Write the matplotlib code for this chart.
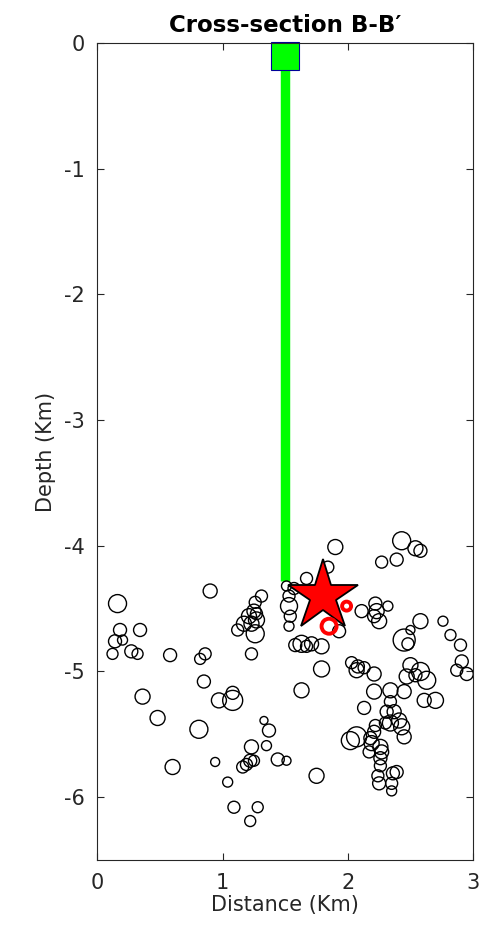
import numpy as np
import matplotlib
matplotlib.use("Agg")
from matplotlib import pyplot as plt

plt.rcParams['axes.unicode_minus'] = False

# event locations along the section: distance (km), depth (km), circle diameter (px)
ev_x = [0.16, 0.90, 0.18, 0.34, 0.14, 0.20, 0.12, 0.27, 0.32, 0.58, 0.86, 0.82,
        0.85, 0.36, 0.97, 1.08, 1.08, 0.48, 0.81, 0.60, 0.94, 1.04, 1.09, 1.22,
        1.28, 1.33, 1.37, 1.23, 1.35, 1.44, 1.51, 1.22, 1.16, 1.19, 1.25, 1.79,
        1.63, 1.75,
        1.31, 1.26, 1.25, 1.27, 1.21, 1.27, 1.17, 1.23, 1.12, 1.26, 1.23,
        1.90, 1.84, 1.67, 1.51, 1.57, 1.53, 1.53, 1.54, 1.53, 1.63, 1.71, 1.67,
        1.58, 1.79, 1.93, 2.03, 2.08,
        2.43, 2.54, 2.58, 2.39, 2.27, 2.11, 2.22, 2.32, 2.23, 2.21, 2.25, 2.58,
        2.50, 2.45, 2.48, 2.76, 2.82, 2.90, 2.91, 2.95, 2.87,
        2.07, 2.13, 2.21, 2.50, 2.58, 2.63, 2.47, 2.54, 2.45, 2.34, 2.21, 2.61,
        2.70, 2.13, 2.34, 2.31, 2.37, 2.41, 2.43, 2.45, 2.34, 2.30, 2.22, 2.07,
        2.02, 2.21, 2.18, 2.19, 2.26, 2.17, 2.27, 2.26, 2.26, 2.24, 2.25, 2.35,
        2.36, 2.39, 2.35]
ev_z = [-4.46, -4.36, -4.67, -4.67, -4.76, -4.75, -4.86, -4.84, -4.86, -4.87, -4.86, -4.90,
        -5.08, -5.20, -5.23, -5.17, -5.23, -5.37, -5.46, -5.76, -5.72, -5.88, -6.08, -6.19,
        -6.08, -5.39, -5.47, -5.60, -5.59, -5.70, -5.71, -5.71, -5.76, -5.74, -5.71, -4.98,
        -5.15, -5.83,
        -4.40, -4.45, -4.52, -4.54, -4.56, -4.59, -4.62, -4.62, -4.67, -4.70, -4.86,
        -4.01, -4.17, -4.26, -4.32, -4.34, -4.40, -4.48, -4.56, -4.64, -4.78, -4.78, -4.80,
        -4.79, -4.80, -4.68, -4.93, -4.96,
        -3.96, -4.02, -4.04, -4.11, -4.13, -4.52, -4.46, -4.48, -4.52, -4.56, -4.60, -4.60,
        -4.67, -4.75, -4.78, -4.60, -4.71, -4.79, -4.92, -5.02, -4.99,
        -4.99, -4.97, -5.02, -4.95, -5.00, -5.07, -5.04, -5.03, -5.16, -5.15, -5.16, -5.23,
        -5.23, -5.29, -5.24, -5.32, -5.32, -5.39, -5.44, -5.52, -5.41, -5.41, -5.43, -5.52,
        -5.55, -5.48, -5.53, -5.57, -5.60, -5.64, -5.64, -5.69, -5.75, -5.83, -5.89, -5.89,
        -5.81, -5.80, -5.95]
ev_d = [18, 14, 13, 13, 13, 10, 11, 13, 11, 13, 12, 11,
        13, 15, 15, 13, 20, 15, 18, 15, 9, 10, 12, 11,
        11, 8, 13, 14, 10, 13, 9, 13, 12, 12, 11, 16,
        15, 15,
        12, 12, 14, 12, 15, 16, 15, 15, 12, 18, 12,
        15, 12, 12, 10, 12, 12, 17, 12, 10, 17, 14, 12,
        13, 15, 13, 12, 13,
        18, 15, 13, 13, 12, 13, 13, 10, 15, 13, 15, 15,
        9, 22, 12, 10, 11, 12, 13, 13, 12,
        15, 12, 14, 15, 18, 18, 15, 13, 14, 15, 15, 14,
        16, 13, 12, 13, 14, 15, 16, 14, 16, 12, 12, 20,
        18, 13, 13, 15, 15, 12, 14, 13, 12, 12, 13, 12,
        13, 13, 10]

# mainshock and the two red events next to it
main_x, main_z = 1.80, -4.40
red_x = [1.85, 1.99]
red_z = [-4.64, -4.48]
red_d = [15, 9]

# well trace
well_x = [1.5, 1.5]
well_z = [0.0, -4.28]
head_x, head_z = 1.5, -0.1

fig = plt.figure(figsize=(4.81, 9.34), dpi=100)
ax = fig.add_axes([0.2027, 0.0792, 0.7807, 0.8748])

ax.plot(well_x, well_z, color=(0, 1, 0), lw=6.8, solid_capstyle="butt", zorder=1)
ax.plot(head_x, head_z, marker="s", ms=20.4, mfc=(0, 1, 0), mec=(0, 0, 0.6),
        mew=0.8, zorder=2, clip_on=False)

px2pt = 72 / 100
ax.scatter(ev_x, ev_z, s=(np.array(ev_d) * px2pt) ** 2, facecolors="none",
           edgecolors="k", linewidths=1.0, zorder=3)

ax.plot(main_x, main_z, marker="*", ms=53, mfc="red", mec="k", mew=1.3, zorder=4)
ax.scatter(red_x, red_z, s=(np.array(red_d) * px2pt) ** 2, facecolors="none",
           edgecolors="red", linewidths=2.8, zorder=5)

ax.set_xlim(0, 3)
ax.set_ylim(-6.5, 0)
ax.set_xticks([0, 1, 2, 3])
ax.set_yticks([0, -1, -2, -3, -4, -5, -6])
ax.tick_params(direction="in", top=True, right=True, length=5, width=0.8,
               labelsize=15, colors="#262626", pad=9)
for sp in ax.spines.values():
    sp.set_color("#262626")
    sp.set_linewidth(0.8)

ax.set_xlabel("Distance (Km)", fontsize=15, color="#262626", labelpad=2)
ax.set_ylabel("Depth (Km)", fontsize=15, color="#262626", labelpad=6)
ax.set_title("Cross-section B-B\u2032", fontsize=16.5, fontweight="bold", pad=8)

fig.savefig("out.png", dpi=100)
